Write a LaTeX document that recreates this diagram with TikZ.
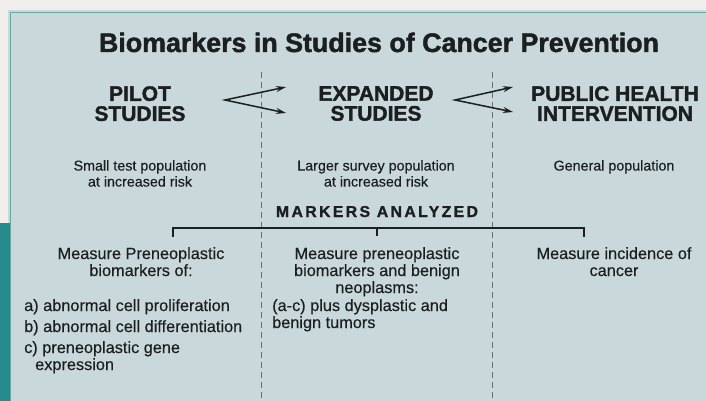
\documentclass[tikz,border=0pt]{standalone}
\usepackage{fontspec}
\setmainfont{Liberation Sans}[FakeBold=0.35]
\newfontfamily\spacedfont[LetterSpace=15,FakeBold=1.2]{Liberation Sans Bold}
\newfontfamily\heavyfont[FakeBold=1.6]{Liberation Sans Bold}
\usetikzlibrary{arrows.meta}

\definecolor{paper}{RGB}{242,238,235}
\definecolor{panelfill}{RGB}{201,216,218}
\definecolor{rim}{RGB}{104,168,162}
\definecolor{strip}{RGB}{40,138,140}
\definecolor{ink}{RGB}{28,31,33}

\begin{document}
\begin{tikzpicture}[x=1pt,y=-1pt]
\tikzstyle{every node}=[inner sep=0pt, text=ink]
\tikzstyle{stage}=[font=\fontsize{21}{20}\selectfont\heavyfont, align=center, below]
\tikzstyle{pop}=[font=\fontsize{14.3}{16}\selectfont, align=center, below]
\tikzstyle{measure}=[font=\fontsize{16.3}{17}\selectfont, align=center, below]
\tikzstyle{items}=[font=\fontsize{16.3}{17}\selectfont, align=left, below right]
\tikzstyle{fork}=[{Stealth[length=10pt,width=6pt]}-{Stealth[length=10pt,width=6pt]}, line width=1.5pt, draw=ink]
\tikzstyle{divider}=[dashed, dash pattern=on 6pt off 4pt, line width=0.7pt, draw=ink!65]
\useasboundingbox (0,0) rectangle (706,401);
% background card
\fill[paper] (0,0) rectangle (706,401);
\fill[panelfill] (8,10) rectangle (706,401);
\draw[rim, line width=1.6pt] (10.5,401) -- (10.5,12.5) -- (706,12.5);
\fill[strip] (0,223) rectangle (9.5,401);
% column dividers
\draw[divider] (261,72) -- (261,401);
\draw[divider] (492,72) -- (492,401);
% title
\node[font=\fontsize{26.8}{30}\selectfont\heavyfont, anchor=base] (title) at (379,52) {Biomarkers in Studies of Cancer Prevention};
% the three stages
\node[stage] (pilot) at (140,86) {PILOT\\STUDIES};
\node[stage] (expanded) at (376,86) {EXPANDED\\STUDIES};
\node[stage] (public) at (615,86) {PUBLIC HEALTH\\INTERVENTION};
\coordinate (fork1) at (225,100);
\coordinate (tip1a) at (286,87);
\coordinate (tip1b) at (286,113);
\coordinate (fork2) at (455,100);
\coordinate (tip2a) at (513,87);
\coordinate (tip2b) at (513,112);
\draw[fork] (tip1a) -- (fork1) -- (tip1b);
\draw[fork] (tip2a) -- (fork2) -- (tip2b);
% populations
\node[pop] (pop1) at (140,160) {Small test population\\at increased risk};
\node[pop] (pop2) at (376,160) {Larger survey population\\at increased risk};
\node[pop] (pop3) at (614,160) {General population};
% markers bracket
\node[font=\fontsize{15.8}{17}\selectfont\spacedfont, anchor=base] (markers) at (377,217) {MARKERS ANALYZED};
\coordinate (brL) at (173,228);
\coordinate (brM) at (377,228);
\coordinate (brR) at (584,228);
\draw[ink, line width=2.6pt] (brL) ++(0,9) -- (brL) -- (brR) -- ++(0,9);
\draw[ink, line width=2.6pt] (brM) -- ++(0,8);
% what is measured
\node[measure] (meas1) at (141,247) {Measure Preneoplastic\\biomarkers of:};
\node[measure] (meas2) at (377,247) {Measure preneoplastic\\biomarkers and benign\\neoplasms:};
\node[measure] (meas3) at (614,247) {Measure incidence of\\cancer};
\node[items] (list1) at (24,299) {a) abnormal cell proliferation\\[4pt]b) abnormal cell differentiation\\[4pt]c) preneoplastic gene\\\hspace*{11pt}expression};
\node[items] (list2) at (272,299) {(a-c) plus dysplastic and\\benign tumors};
\end{tikzpicture}
\end{document}
